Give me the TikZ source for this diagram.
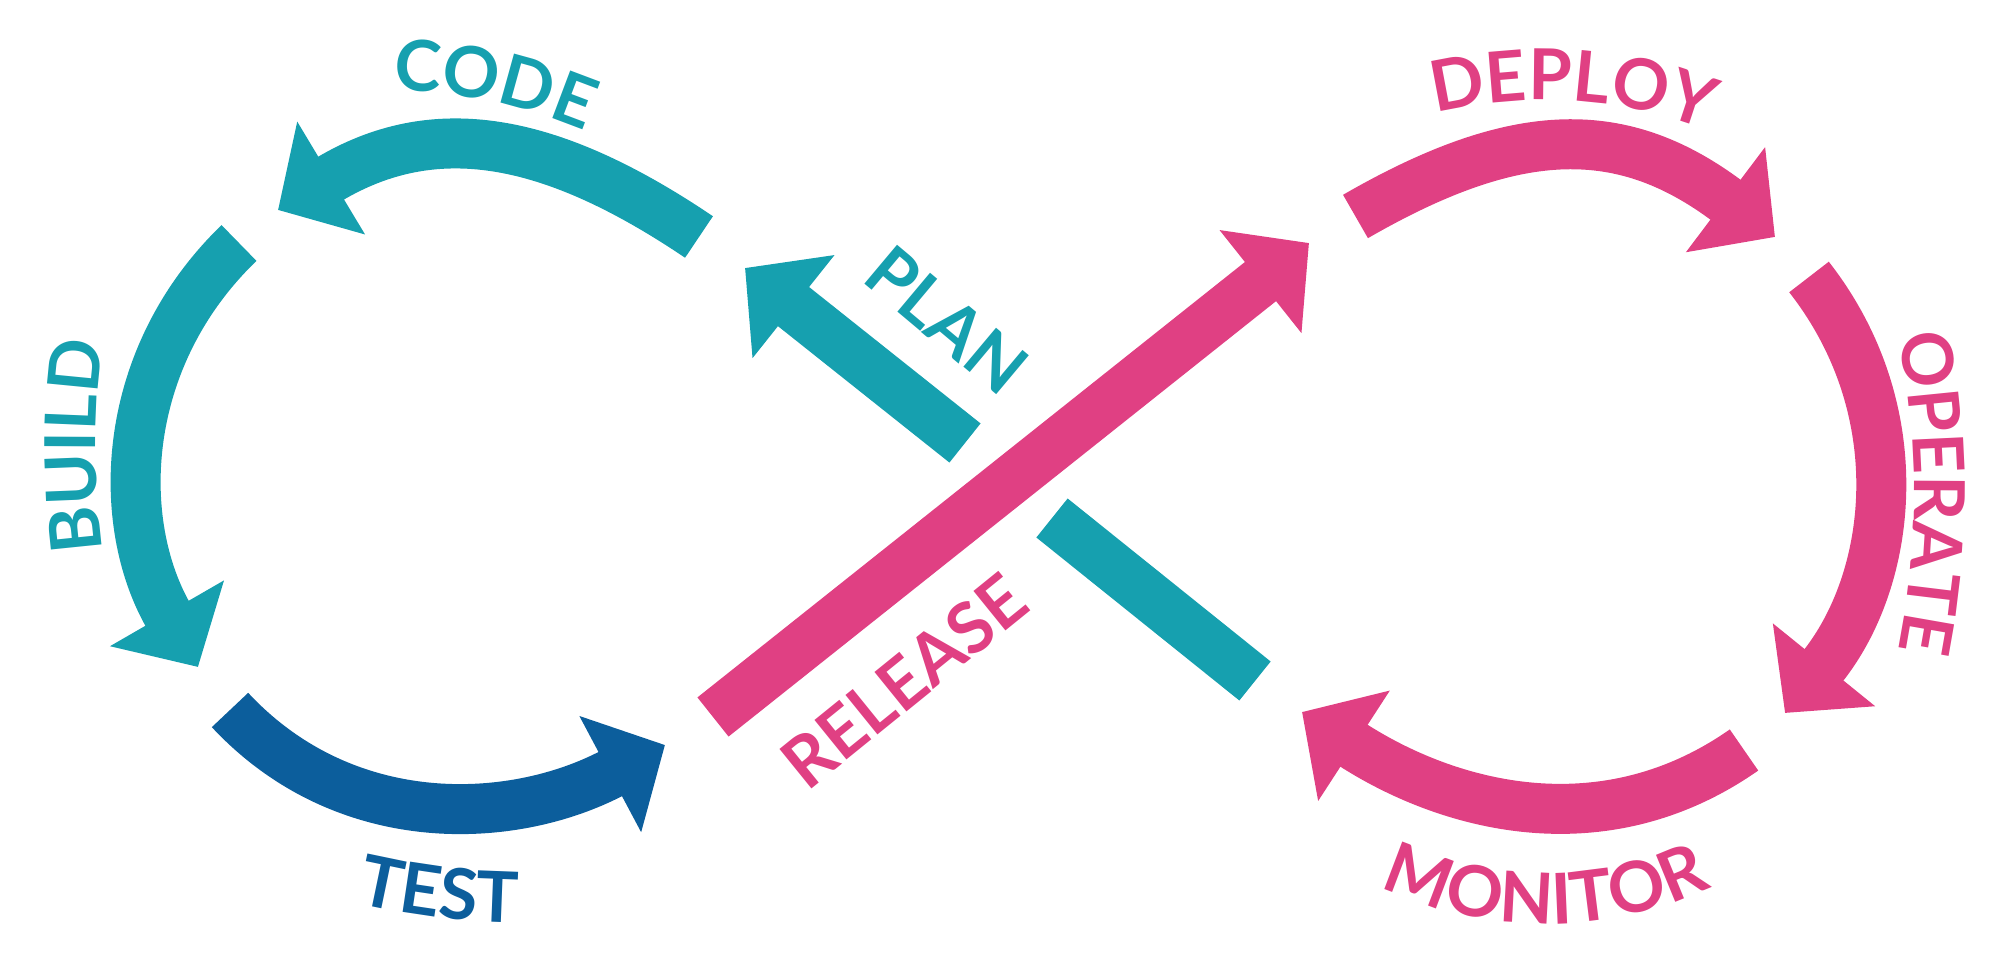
\documentclass[tikz,border=0pt]{standalone}
\usepackage{fontspec}
\newfontfamily\lblfont{Lato}
\newcommand\lbl{\lblfont\bfseries\fontsize{20}{24}\selectfont}
\usepackage{tikz}
\usetikzlibrary{arrows.meta,decorations.text}
\definecolor{devteal}{RGB}{22,160,175}
\definecolor{devblue}{RGB}{12,94,156}
\definecolor{devpink}{RGB}{224,64,131}

\begin{document}
\begin{tikzpicture}[
    flow/.style={line width=5mm, -{Triangle[length=6.2mm, width=12.8mm]}},
    bar/.style={line width=5mm},
    lbl/.style={font=\lbl, inner sep=0pt},
    arclbl/.style 2 args={decorate, decoration={text along path, text={|\lbl|#1}, text align=center, text color=#2}}
  ]
  \useasboundingbox (0,0) rectangle (20.14,-9.65);
  % ends of the arrows
  \coordinate (code1) at (6.99,-2.37);
  \coordinate (code2) at (2.78,-2.10);
  \coordinate (build1) at (2.39,-2.43);
  \coordinate (build2) at (1.98,-6.67);
  \coordinate (test1) at (2.30,-7.10);
  \coordinate (test2) at (6.65,-7.45);
  \coordinate (rel1) at (7.13,-7.17);
  \coordinate (rel2) at (13.09,-2.43);
  \coordinate (dep1) at (13.555,-2.165);
  \coordinate (dep2) at (17.75,-2.37);
  \coordinate (op1) at (18.09,-2.77);
  \coordinate (op2) at (17.85,-7.13);
  \coordinate (mon1) at (17.44,-7.50);
  \coordinate (mon2) at (13.02,-7.12);
  \coordinate (bar1) at (12.55,-6.81);
  \coordinate (bar2) at (10.52,-5.18);
  \coordinate (plan1) at (9.65,-4.43);
  \coordinate (plan2) at (7.45,-2.68);

  % left loop
  \draw[flow, devteal] (code1) to[out=146, in=31, looseness=1.1] (code2);
  \draw[flow, devteal] (build1) to[out=224, in=120] (build2);
  \draw[flow, devblue] (test1) to[out=-47, in=208] (test2);
  % crossing
  \draw[bar, devteal] (bar1) -- (bar2);
  \draw[flow, devteal] (plan1) -- (plan2);
  \draw[flow, devpink] (rel1) -- (rel2);
  % right loop
  \draw[flow, devpink] (dep1) to[out=30, in=143, looseness=1.15] (dep2);
  \draw[flow, devpink] (op1) to[out=-52, in=51] (op2);
  \draw[flow, devpink] (mon1) to[out=215, in=-33] (mon2);

  % labels
  \path[arclbl={CODE}{devteal}] ([shift={(108:5.2)}]3.83,-6.10) arc[start angle=108, end angle=48, radius=5.2];
  \path[arclbl={BUILD}{devteal}] ([shift={(198:8)}]8.96,-4.46) arc[start angle=198, end angle=162, radius=8];
  \path[arclbl={TEST}{devblue}] ([shift={(-112:7.26)}]5.25,-1.97) arc[start angle=-112, end angle=-82, radius=7.26];
  \path[arclbl={DEPLOY}{devpink}] ([shift={(116:4.50)}]15.45,-5.50) arc[start angle=116, end angle=57, radius=4.50];
  \path[arclbl={OPERATE}{devpink}] ([shift={(18:8)}]11.14,-4.93) arc[start angle=18, end angle=-18, radius=8];
  \path[arclbl={MONITOR}{devpink}] ([shift={(-125:3.82)}]15.46,-5.42) arc[start angle=-125, end angle=-55, radius=3.82];
  \node[lbl, devteal, rotate=-40] (plan) at (9.47,-3.20) {PLAN};
  \node[lbl, devpink, rotate=39] (release) at (9.04,-6.81) {RELEASE};
\end{tikzpicture}
\end{document}
